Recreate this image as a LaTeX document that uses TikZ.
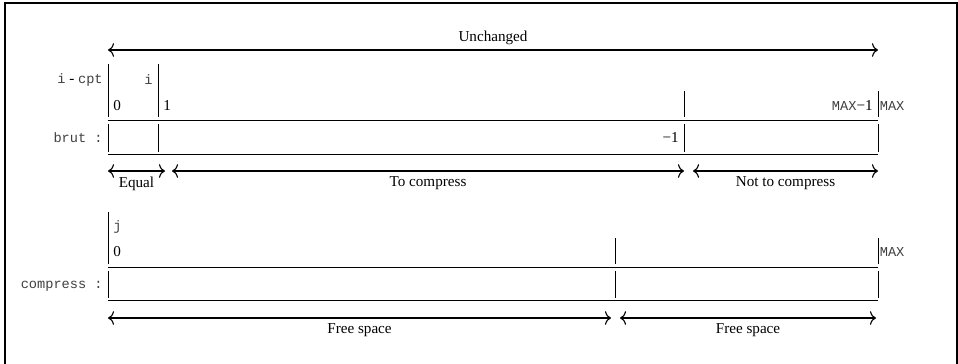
\documentclass[tikz,border=0pt]{standalone}
\usepackage{fontspec}
\setmainfont{Liberation Serif}
\setmonofont[Scale=0.9]{Liberation Mono}
\usetikzlibrary{arrows.meta}

\tikzset{
  span/.style={<->,line width=0.75pt},
  var/.style={font=\ttfamily,text=black!75},
}

\begin{document}
\begin{tikzpicture}[x=0.66pt,y=-0.66pt,>={To[length=4pt,width=9pt]}]

\clip (0,0) rectangle (958,364);
\draw[line width=0.9pt] (5,3) rectangle (957,400);

% whole array, untouched
\draw[span] (108,50) -- node[above] (unchanged) {Unchanged} (878,50);

% array brut
\draw (108,120) -- (878,120);
\draw (108,154) -- (878,154);
\foreach \x in {108,158,684,878}
	\draw (\x,124) -- (\x,152);
\foreach \x in {108,158}
	\draw (\x,64) -- (\x,117);
\foreach \x in {684,878}
	\draw (\x,91) -- (\x,117);

\node[left] (icpt) at (108,80) {\texttt{\color{black!75}i} - \texttt{\color{black!75}cpt}};
\node[left,var] (i) at (158,80) {i};
\node[right] (zero) at (108,106) {0};
\node[right] (one) at (158,106) {1};
\node[left] (maxm) at (878,106) {\texttt{\color{black!75}MAX}−1};
\node[right,var,inner sep=1pt] (max) at (878,106) {MAX};
\node[left,var] (brut) at (108,138) {brut :};
\node[left] (minus) at (684,138) {−1};

      % parts of brut
\draw[span] (108,171) -- node[below] (equal) {Equal} (165,171);
\draw[span] (172,171) -- node[below] (tocomp) {To compress} (684,171);
\draw[span] (693,171) -- node[below] (nottocomp) {Not to compress} (878,171);

% array compress
\draw (108,267) -- (878,267);
\draw (108,300) -- (878,300);
\foreach \x in {108,615,878}
	\draw (\x,271) -- (\x,298);
\draw (108,212) -- (108,264);
\foreach \x in {615,878}
	\draw (\x,238) -- (\x,264);

\node[right,var] (j) at (108,227) {j};
\node[right] (czero) at (108,252) {0};
\node[right,var,inner sep=1pt] (cmax) at (878,252) {MAX};
\node[left,var] (compress) at (108,286) {compress :};

      % parts of compress
\draw[span] (108,318) -- node[below] (free) {Free space} (611,318);
\draw[span] (620,318) -- node[below] (freeb) {Free space} (876,318);

\end{tikzpicture}
\end{document}
